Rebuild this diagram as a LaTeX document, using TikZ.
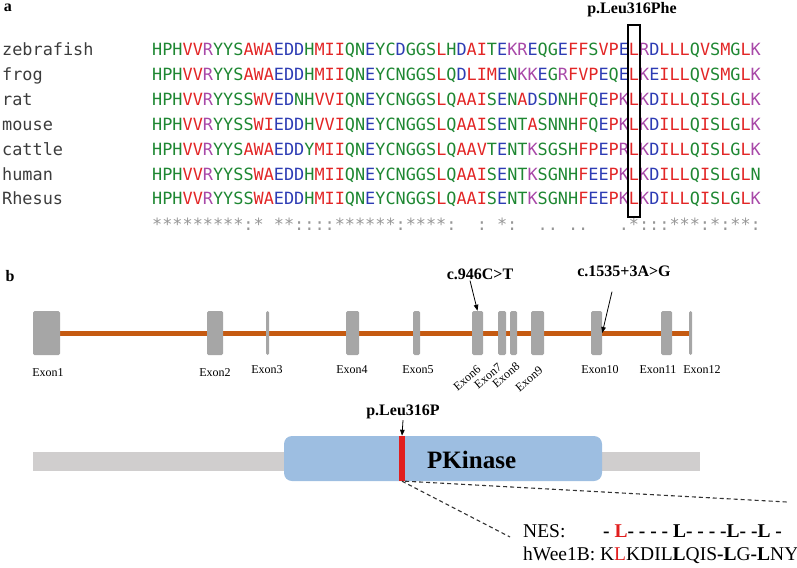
\documentclass[tikz,border=0pt]{standalone}
\usepackage{fontspec}
\setmainfont{Liberation Serif}
\newfontfamily\seqfont{DejaVu Sans Mono}
\usepackage{xcolor}
\usetikzlibrary{arrows.meta,backgrounds}

\definecolor{aared}{RGB}{226,38,38}
\definecolor{aablue}{RGB}{45,60,180}
\definecolor{aamag}{RGB}{168,72,168}
\definecolor{aagreen}{RGB}{30,135,50}
\definecolor{namegray}{RGB}{60,60,60}
\definecolor{stargray}{RGB}{150,150,150}
\definecolor{exongray}{RGB}{166,166,166}
\definecolor{introncol}{RGB}{197,90,17}
\definecolor{protgray}{RGB}{208,206,206}
\definecolor{kinblue}{RGB}{157,190,225}
\definecolor{mutred}{RGB}{225,30,30}

% residue colours
\newcommand\aaset[2]{\colorlet{aa#1}{#2}}
\aaset{A}{aared}\aaset{V}{aared}\aaset{F}{aared}\aaset{P}{aared}
\aaset{M}{aared}\aaset{I}{aared}\aaset{L}{aared}\aaset{W}{aared}
\aaset{D}{aablue}\aaset{E}{aablue}
\aaset{R}{aamag}\aaset{K}{aamag}
\aaset{S}{aagreen}\aaset{T}{aagreen}\aaset{Y}{aagreen}\aaset{H}{aagreen}
\aaset{C}{aagreen}\aaset{N}{aagreen}\aaset{G}{aagreen}\aaset{Q}{aagreen}
\def\aaseq#1{\ifx#1\relax\else\textcolor{aa#1}{#1}\expandafter\aaseq\fi}

\begin{document}
\begin{tikzpicture}[x=1pt, y=-1pt,
    seq/.style={inner sep=0pt, anchor=base west, font=\seqfont\fontsize{16.85}{20}\selectfont},
    panel/.style={inner sep=0pt, font=\bfseries\fontsize{16}{19}\selectfont},
    mutlab/.style={inner sep=1pt, font=\bfseries\fontsize{16}{19}\selectfont},
    exon/.style={fill=exongray, rounded corners=1.5pt, minimum height=44pt, inner sep=0pt},
    exlab/.style={inner sep=0pt, font=\fontsize{12}{14}\selectfont},
    snp/.style={-{Triangle[length=6pt,width=4.5pt]}, line width=0.8pt},
    intron/.style={draw=introncol, line width=5pt},
    zoomline/.style={dash pattern=on 4pt off 3pt, line width=1.1pt, draw=black!80},
    nes/.style={inner sep=0pt, anchor=base west, font=\fontsize{19.5}{23}\selectfont}]
\useasboundingbox (0,0) rectangle (797,567);

% panel a
\node[panel] (pa) at (8,8) {a};
\foreach \nm/\sq [count=\i from 0] in {
    zebrafish/VVRYYSAWAEDDHMIIQNEYCDGGSLHDAITEKREQGEFFSVPELRDLLLQVSMGLK,
    frog/VVRYYSAWAEDDHMIIQNEYCNGGSLQDLIMENKKEGRFVPEQELKEILLQVSMGLK,
    rat/VVRYYSSWVEDNHVVIQNEYCNGGSLQAAISENADSDNHFQEPKLKDILLQISLGLK,
    mouse/VVRYYSSWIEDDHVVIQNEYCNGGSLQAAISENTASNNHFQEPKLKDILLQISLGLK,
    cattle/VVRYYSAWAEDDYMIIQNEYCNGGSLQAAVTENTKSGSHFPEPRLKDILLQISLGLK,
    human/VVRYYSSWAEDDHMIIQNEYCNGGSLQAAISENTKSGNHFEEPKLKDILLQISLGLN,
    Rhesus/VVRYYSSWAEDDHMIIQNEYCNGGSLQAAISENTKSGNHFEEPKLKDILLQISLGLK}
{
    \node[seq, text=namegray] (name\i) at (2,{56+24.8*\i}) {\nm};
    \node[seq] (row\i) at (152,{56+24.8*\i}) {\textcolor{aagreen}{HPH}\expandafter\aaseq\sq\relax};
}
\node[seq, text=stargray] (cons) at (152,230) {*********:*~**::::******:****:~~:~*:~~..~..~~~.*:::***:*:**:};
\node[draw, line width=1.6pt, minimum width=12pt, minimum height=192pt, inner sep=0pt] (hl) at (634,121) {};
\node[mutlab] (pphe) at (632,10) {p.Leu316Phe};

% panel b, gene
\node[panel] (pb) at (10,276) {b};
\foreach \n/\x/\w in {1/46.5/27, 2/215/16, 3/267.5/3, 4/352.5/13, 5/416.5/7, 6/477.5/11,
    7/502/8, 8/513.5/7, 9/537.5/13, 10/596.5/11, 11/666.5/11, 12/690.5/3}
    \node[exon, minimum width=\w*1pt] (ex\n) at (\x,333) {};
\begin{pgfonlayer}{background}
    \draw[intron] (ex1.east) -- (ex12.center);
\end{pgfonlayer}
\foreach \n/\x/\y in {1/48/373, 2/215/373, 3/267/370, 4/352/370, 5/418/370,
    10/600/370, 11/658/370, 12/702/370}
    \node[exlab] (exl\n) at (\x,\y) {Exon\n};
\foreach \n/\x/\y in {6/467/378, 7/488/376, 8/506/375, 9/529/379}
    \node[exlab, rotate=40] (exl\n) at (\x,\y) {Exon\n};
\node[mutlab] (c946) at (480,274) {c.946C>T};
\node[mutlab] (c1535) at (624,271) {c.1535+3A>G};
\draw[snp] ([xshift=-10pt]c946.south) -- (ex6.north);
\draw[snp] ([xshift=-12pt,yshift=-14pt]c1535.south) -- (ex10.east);

% panel b, protein
\fill[protgray] (33,452) rectangle (700,471);
\node[fill=kinblue, rounded corners=8pt, minimum width=318pt, minimum height=45pt] (pkin) at (443,458.5) {};
\node[fill=mutred, inner sep=0pt, minimum width=6pt, minimum height=45pt] (mut) at (402,458.5) {};
\node[anchor=west, inner sep=0pt, font=\bfseries\fontsize{25}{30}\selectfont] (pkname) at (427,460) {PKinase};
\node[mutlab] (pleu) at (403,412) {p.Leu316P};
\draw[snp] (pleu.south) -- (mut.north);
\coordinate (dashR) at (787,502);
\coordinate (dashL) at (510,537);
\draw[zoomline] (mut.south east) -- (dashR);
\draw[zoomline] (mut.south) -- (dashL);
\node[nes] (nes) at (523,537) {NES:};
\node[nes, font=\bfseries\fontsize{19.5}{23}\selectfont] (nespat) at (603,537) {- \textcolor{mutred}{L}- - - - L- - - -L- -L -};
\node[nes] (wee) at (523,560) {hWee1B: K\textcolor{mutred}{L}KDIL\textbf{L}QIS\textbf{-L}G\textbf{-L}NY};
\end{tikzpicture}
\end{document}
